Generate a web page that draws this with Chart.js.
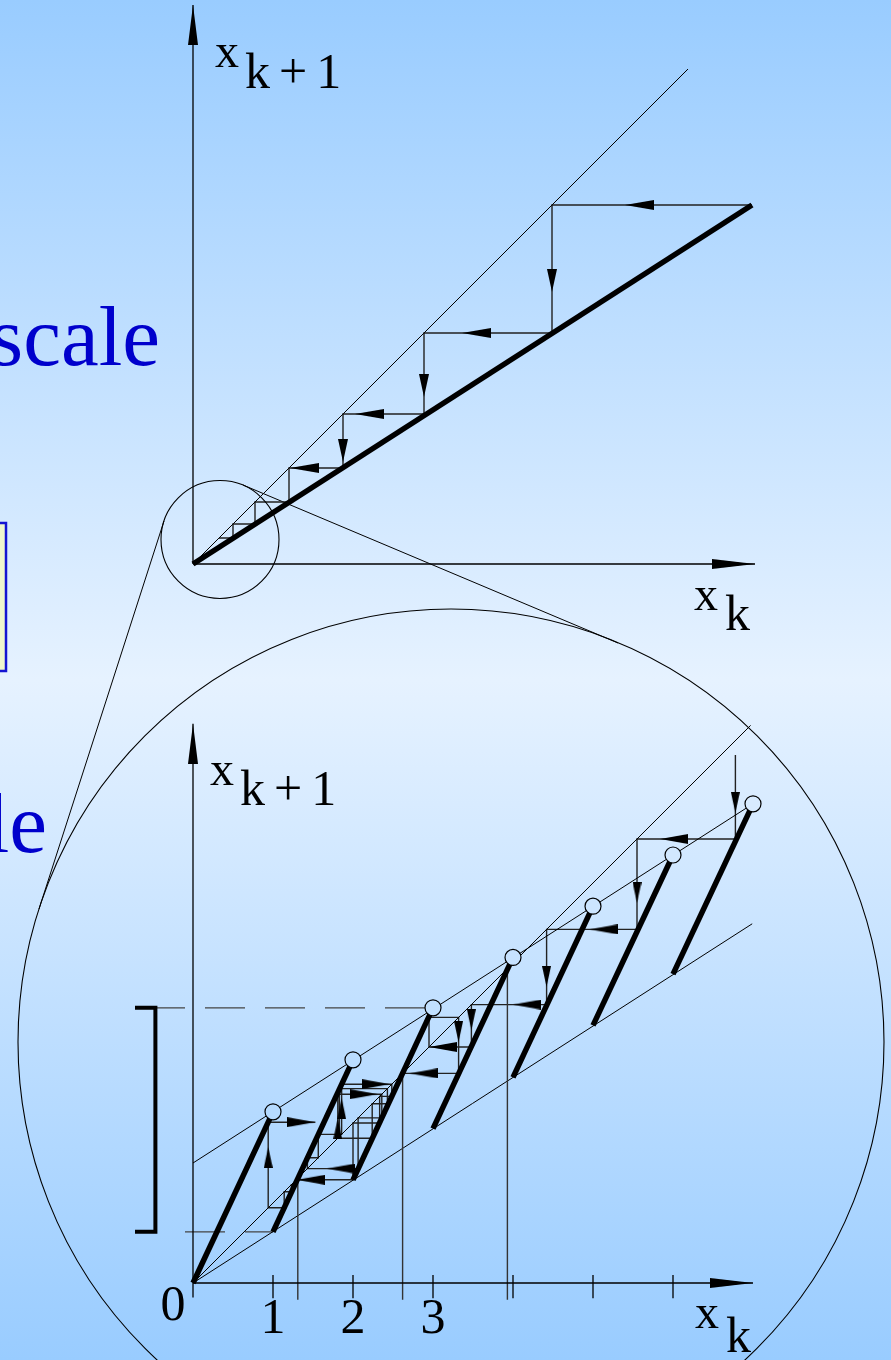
<!DOCTYPE html>
<html lang="en">
<head>
<meta charset="UTF-8">
<title>x(k+1) against x(k): staircase and zoom</title>
<script src="https://cdn.jsdelivr.net/npm/chart.js@4.4.1/dist/chart.umd.min.js"></script>
<style>
  html, body { margin: 0; padding: 0; }
  body {
    width: 891px; height: 1360px; overflow: hidden;
    background: linear-gradient(to bottom, #99ccff 0%, #e6f2ff 50%, #99ccff 100%);
  }
</style>
</head>
<body>
<canvas id="chart" width="891" height="1360"></canvas>
<script>
// ---------- upper plot: contracting line, iterated from the right ----------
const topMapEnd = [11.18, 7.18];
const topDiagEnd = 9.9;
const topAxisTip = [11.24, 11.18];
const topOrbit = [11.18, 7.18, 4.62, 3.0, 1.92, 1.24, 0.8, 0.52];
const topArrows = [
  [8.64, 7.18, 'left'], [7.18, 5.44, 'down'], [5.38, 4.62, 'left'], [4.62, 3.34, 'down'],
  [3.24, 3.0, 'left'], [3.0, 2.04, 'down'], [1.94, 1.92, 'left']
];
const smallLens = [0.54, 0.49];

// ---------- lower plot: piecewise branches (magnified) ----------
const branchX = [0, 1, 2, 3, 4, 5, 6, 7];
const branchLow = [0, 0.64, 1.29, 1.93, 2.57, 3.22, 3.86];
const branchHigh = [2.14, 2.79, 3.44, 4.07, 4.71, 5.35, 5.99];
const upperLine = [[0, 1.5], [7, 5.99]];
const lowerLine = [[0, 0], [6.99, 4.49]];
const diagEnd = 6.97;
const botAxisTip = [7.0, 6.99];
const tickX = [1, 2, 3, 4, 5, 6];
const tickLabels = ['1', '2', '3'];
const fixedPts = [1.31, 2.62, 3.93];
const bracketY = [0.64, 3.44];
const orbitRight = [6.78, 5.55, 4.42, 3.48, 2.95, 3.32, 2.62];
const orbitRightStartY = 6.6;
const orbitLeft = [1.83, 2.43, 2.24, 1.81, 2.36, 2.064, 1.43, 1.566, 1.858, 2.485,
                   2.333, 2.0, 1.29, 1.27, 1.23, 1.14, 0.94, 2.01];
const orbitLeftEndX = 1.53;
const botArrows = [
  [6.78, 5.875, 'down'], [5.84, 5.55, 'left'], [5.55, 4.75, 'down'], [4.96, 4.42, 'left'],
  [4.42, 3.7, 'down'], [4.0, 3.48, 'left'], [3.48, 3.16, 'down'], [2.95, 2.95, 'left'],
  [3.32, 3.01, 'down'], [2.71, 2.62, 'left'],
  [1.81, 2.06, 'up'], [2.31, 2.36, 'right'], [1.858, 2.31, 'up'], [2.46, 2.485, 'right'],
  [1.675, 1.43, 'left'], [1.3, 1.29, 'left'], [0.94, 1.7, 'up'], [1.525, 2.01, 'right']
];
const bigLens = [3.225, 3.0125];

// ---------- slide decorations (page units) ----------
const lensTangents = [[[164, 521], [39, 909]], [[243, 485], [618, 643]]];
const noteBox = [[-10, 523], [6, 523], [6, 671], [-10, 671], [-10, 523]];
const slideWords = [['scale', 160, 365], ['le', 47, 852]];

// where each plot sits on the page: origin in px and px per unit
const W = 891, H = 1360;
const TOP = { ox: 193, oy: 564, unit: 50 };
const BOT = { ox: 193, oy: 1283, unit: 80 };

function xScale(o) { return { type: 'linear', display: false, min: -o.ox / o.unit, max: (W - o.ox) / o.unit }; }
function yScale(o) { return { type: 'linear', display: false, min: -(H - o.oy) / o.unit, max: o.oy / o.unit }; }

// arrowhead bitmap pointing up, tip at the centre so the data point is the tip
function arrowHead(len, wid) {
  const c = document.createElement('canvas');
  c.width = wid; c.height = len * 2;
  const g = c.getContext('2d');
  g.fillStyle = '#000';
  g.beginPath();
  g.moveTo(wid / 2, len);
  g.lineTo(wid, len * 2);
  g.lineTo(0, len * 2);
  g.closePath();
  g.fill();
  return c;
}
const ROT = { up: 0, right: 90, down: 180, left: 270 };

function line(axes, pts, opts) {
  return Object.assign({
    xAxisID: axes[0], yAxisID: axes[1],
    data: pts.map(p => ({ x: p[0], y: p[1] })),
    showLine: true, pointRadius: 0, borderColor: '#000', borderWidth: 1,
    fill: false, order: 10
  }, opts || {});
}

// staircase path from an orbit: vertical to next value, then across to the diagonal
function cobweb(vals, startY, endX) {
  const pts = [[vals[0], startY == null ? vals[0] : startY]];
  for (let i = 1; i < vals.length; i++) {
    pts.push([vals[i - 1], vals[i]]);
    pts.push([vals[i], vals[i]]);
  }
  if (endX != null) pts[pts.length - 1][0] = endX;
  return pts;
}

function arrows(axes, list, hHead, vHead) {
  return {
    xAxisID: axes[0], yAxisID: axes[1],
    data: list.map(a => ({ x: a[0], y: a[1] })),
    pointStyle: list.map(a => (a[2] === 'left' || a[2] === 'right') ? hHead : vHead),
    pointRotation: list.map(a => ROT[a[2]]),
    pointRadius: 3, showLine: false, order: 2
  };
}

// page background colour at a given pixel row (same stops as the CSS gradient)
function bgAt(py) {
  const t = Math.min(1, Math.max(0, py / H));
  const u = t < 0.5 ? t / 0.5 : (1 - t) / 0.5;
  const a = [153, 204, 255], b = [230, 242, 255];
  const c = a.map((v, i) => Math.round(v + (b[i] - v) * u));
  return 'rgb(' + c.join(',') + ')';
}

const T = ['xt', 'yt'], B = ['xb', 'yb'], P = ['x', 'y'];
const stepH = arrowHead(28, 10), stepV = arrowHead(21, 9);
const topH = arrowHead(29, 10), topV = arrowHead(23, 10);
const axisH = arrowHead(43, 10), axisV = arrowHead(40, 10);

const datasets = [];

// upper plot
datasets.push(line(T, [[0, 0], [0, topAxisTip[1]]], { borderWidth: 1.3 }));
datasets.push(line(T, [[0, 0], [topAxisTip[0], 0]], { borderWidth: 1.3 }));
datasets.push(line(T, [[0, 0], [topDiagEnd, topDiagEnd]]));
datasets.push(line(T, [[0, 0], topMapEnd], { borderWidth: 5.5, order: 5 }));
datasets.push(line(T, cobweb(topOrbit, topMapEnd[1]), { borderColor: '#222', borderWidth: 1.4 }));
datasets.push(arrows(T, topArrows, topH, topV));
datasets.push(arrows(T, [[0, topAxisTip[1], 'up']], axisH, axisV));
datasets.push(arrows(T, [[topAxisTip[0], 0, 'right']], axisH, axisV));
datasets.push({
  xAxisID: 'xt', yAxisID: 'yt', data: [{ x: smallLens[0], y: smallLens[1] }],
  pointRadius: 59, pointBorderWidth: 1.1, pointBorderColor: '#000',
  pointBackgroundColor: 'rgba(0,0,0,0)', showLine: false, order: 3
});

// lower plot
datasets.push(line(B, [[0, -0.18], [0, botAxisTip[1]]], { borderWidth: 1.3 }));
datasets.push(line(B, [[0, 0], [botAxisTip[0], 0]], { borderWidth: 1.3 }));
tickX.forEach(t => datasets.push(line(B, [[t, 0.1], [t, -0.19]], { borderWidth: 1.3 })));
fixedPts.forEach(f => datasets.push(line(B, [[f, f], [f, -0.21]], { borderColor: '#333', borderWidth: 1.4 })));
datasets.push(line(B, [[0, 0], [diagEnd, diagEnd]]));
datasets.push(line(B, upperLine));
datasets.push(line(B, lowerLine));
datasets.push(line(B, [[-0.6, bracketY[1]], [3, bracketY[1]]], { borderColor: '#444', borderWidth: 1.3, borderDash: [40, 20] }));
datasets.push(line(B, [[-0.1, bracketY[0]], [1, bracketY[0]]], { borderColor: '#444', borderWidth: 1.3, borderDash: [40, 20] }));
datasets.push(line(B, [[-0.725, bracketY[1]], [-0.47, bracketY[1]], [-0.47, bracketY[0]], [-0.725, bracketY[0]]],
  { borderWidth: 4, order: 5 }));
for (let i = 0; i < branchLow.length; i++) {
  datasets.push(line(B, [[branchX[i], branchLow[i]], [branchX[i + 1], branchHigh[i]]], { borderWidth: 5.5, order: 5 }));
}
datasets.push(line(B, cobweb(orbitRight, orbitRightStartY), { borderColor: '#222', borderWidth: 1.4 }));
datasets.push(line(B, cobweb(orbitLeft, null, orbitLeftEndX), { borderColor: '#222', borderWidth: 1.4 }));
datasets.push(arrows(B, botArrows, stepH, stepV));
datasets.push(arrows(B, [[0, botAxisTip[1], 'up']], axisH, axisV));
datasets.push(arrows(B, [[botAxisTip[0], 0, 'right']], axisH, axisV));
datasets.push({
  xAxisID: 'xb', yAxisID: 'yb',
  data: branchHigh.map((h, i) => ({ x: branchX[i + 1], y: h })),
  pointRadius: 8, pointBorderWidth: 1.2, pointBorderColor: '#000',
  pointBackgroundColor: ctx => bgAt(ctx.chart.scales.yb.getPixelForValue(ctx.parsed ? ctx.parsed.y : 0)),
  showLine: false, order: 1
});
datasets.push({
  xAxisID: 'xb', yAxisID: 'yb', data: [{ x: bigLens[0], y: bigLens[1] }],
  pointRadius: 433, pointBorderWidth: 1.1, pointBorderColor: '#000',
  pointBackgroundColor: 'rgba(0,0,0,0)', showLine: false, order: 3
});

// slide decorations
lensTangents.forEach(tn => datasets.push(line(P, tn)));
datasets.push(line(P, noteBox, { borderColor: '#1414d2', borderWidth: 2.5, backgroundColor: '#eff7cd', fill: 'shape', order: 12 }));

// labels placed in each plot's own units
const textGroups = [
  { axes: T, font: '48px "Liberation Serif", serif', color: '#000', align: 'left',
    items: [['x', 0.44, 9.94], ['x', 10.02, -0.92]] },
  { axes: T, font: '50px "Liberation Serif", serif', color: '#000', align: 'left', spacing: '9px',
    items: [['k+1', 1.04, 9.52], ['k', 10.64, -1.32]] },
  { axes: B, font: '48px "Liberation Serif", serif', color: '#000', align: 'left',
    items: [['x', 0.2125, 6.225], ['x', 6.275, -0.5625]] },
  { axes: B, font: '50px "Liberation Serif", serif', color: '#000', align: 'left', spacing: '9px',
    items: [['k+1', 0.5875, 5.975], ['k', 6.6625, -0.8625]] },
  { axes: B, font: '50px "Liberation Serif", serif', color: '#000', align: 'center',
    items: [['0', -0.25, -0.46]].concat(tickLabels.map((t, i) => [t, tickX[i], -0.625])) },
  { axes: P, font: '85px "Liberation Serif", serif', color: '#0000cc', align: 'right',
    items: slideWords }
];

const textPlugin = {
  id: 'figureText',
  afterDatasetsDraw(chart) {
    const ctx = chart.ctx;
    ctx.save();
    ctx.textBaseline = 'alphabetic';
    for (const grp of textGroups) {
      const sx = chart.scales[grp.axes[0]], sy = chart.scales[grp.axes[1]];
      ctx.font = grp.font;
      ctx.fillStyle = grp.color;
      ctx.textAlign = grp.align;
      ctx.letterSpacing = grp.spacing || '0px';
      for (const t of grp.items) {
        ctx.fillText(t[0], sx.getPixelForValue(t[1]), sy.getPixelForValue(t[2]));
      }
    }
    ctx.restore();
  }
};

new Chart(document.getElementById('chart'), {
  type: 'scatter',
  data: { datasets },
  options: {
    responsive: false,
    animation: false,
    devicePixelRatio: 1,
    events: [],
    layout: { padding: 0, autoPadding: false },
    plugins: { legend: { display: false }, tooltip: { enabled: false }, title: { display: false } },
    scales: {
      x: { type: 'linear', display: false, min: 0, max: W },
      y: { type: 'linear', display: false, min: 0, max: H, reverse: true },
      xt: xScale(TOP), yt: yScale(TOP),
      xb: xScale(BOT), yb: yScale(BOT)
    }
  },
  plugins: [textPlugin]
});
</script>
</body>
</html>
